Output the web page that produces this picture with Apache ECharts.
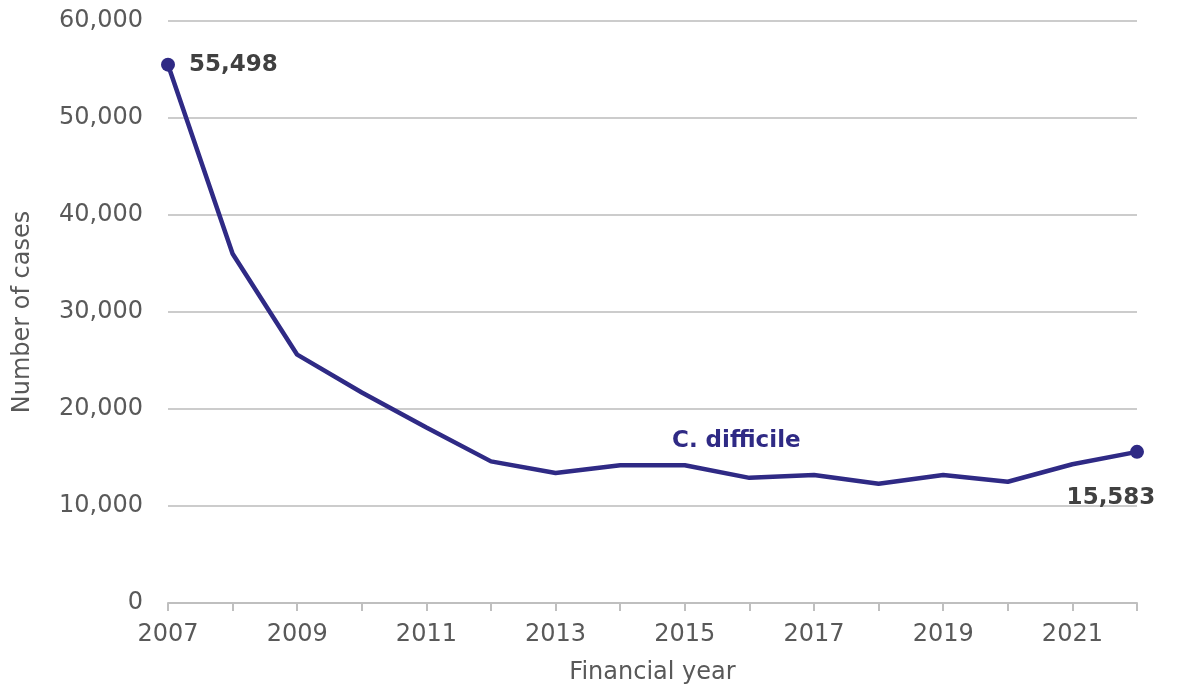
<!DOCTYPE html>
<html>
<head>
<meta charset="utf-8">
<script src="https://cdn.jsdelivr.net/npm/echarts@6/dist/echarts.min.js"></script>
<style>html,body{margin:0;padding:0;background:#fff}#c{width:1183px;height:690px}</style>
</head>
<body>
<div id="c"></div>
<script>
const years = ['2007','2008','2009','2010','2011','2012','2013','2014','2015','2016','2017','2018','2019','2020','2021','2022'];
const cases = [55498, 36000, 25600, 21700, 18100, 14600, 13400, 14200, 14200, 12900, 13200, 12300, 13200, 12500, 14300, 15583];
const yTicks = [0, 10000, 20000, 30000, 40000, 50000, 60000];
const seriesName = 'C. difficile';

const navy = '#2f2a85';
const chart = echarts.init(document.getElementById('c'), null, {renderer: 'canvas'});
const fmt = v => v.toLocaleString('en-GB');
const lastIdx = cases.length - 1;

chart.setOption({
  animation: false,
  grid: {left: 168, right: 46, top: 21, bottom: 87, containLabel: false, outerBoundsMode: 'none'},
  xAxis: {
    type: 'category',
    data: years,
    boundaryGap: false,
    name: 'Financial year',
    nameLocation: 'middle',
    nameGap: 58,
    nameTextStyle: {fontFamily: 'DejaVu Sans', fontSize: 24, color: '#595959'},
    axisLine: {lineStyle: {color: '#bfbfbf', width: 2}},
    axisTick: {show: true, length: 8, interval: 0, lineStyle: {color: '#bfbfbf', width: 2}},
    axisLabel: {interval: 1, fontFamily: 'DejaVu Sans', fontSize: 24, color: '#595959', margin: 20},
    splitLine: {show: false}
  },
  yAxis: {
    type: 'value',
    min: yTicks[0],
    max: yTicks[yTicks.length - 1],
    interval: yTicks[1] - yTicks[0],
    name: 'Number of cases',
    nameLocation: 'middle',
    nameGap: 133,
    nameRotate: 90,
    nameTextStyle: {fontFamily: 'DejaVu Sans', fontSize: 24, color: '#595959'},
    axisLine: {show: false},
    axisTick: {show: false},
    axisLabel: {formatter: fmt, fontFamily: 'DejaVu Sans', fontSize: 24, color: '#595959', margin: 25},
    splitLine: {lineStyle: {color: '#cccccc', width: 2}}
  },
  series: [{
    type: 'line',
    name: seriesName,
    data: cases.map((v, i) => {
      const d = {value: v};
      if (i === 0) {
        d.symbol = 'circle'; d.symbolSize = 14;
        d.label = {show: true, position: 'right', distance: 14, formatter: p => fmt(p.value)};
      } else if (i === lastIdx) {
        d.symbol = 'circle'; d.symbolSize = 14;
        d.label = {show: true, position: 'inside', offset: [-26, 46], formatter: p => fmt(p.value)};
      } else {
        d.symbol = 'none';
      }
      return d;
    }),
    showSymbol: true,
    lineStyle: {color: navy, width: 4.5},
    itemStyle: {color: navy},
    label: {fontFamily: 'DejaVu Sans', fontWeight: 'bold', fontSize: 23, color: '#404040'},
    z: 3
  }],
  graphic: [{
    type: 'text',
    left: 672,
    top: 430,
    style: {text: seriesName, fontFamily: 'DejaVu Sans', fontWeight: 'bold', fontSize: 23, fill: navy}
  }]
});
</script>
</body>
</html>
